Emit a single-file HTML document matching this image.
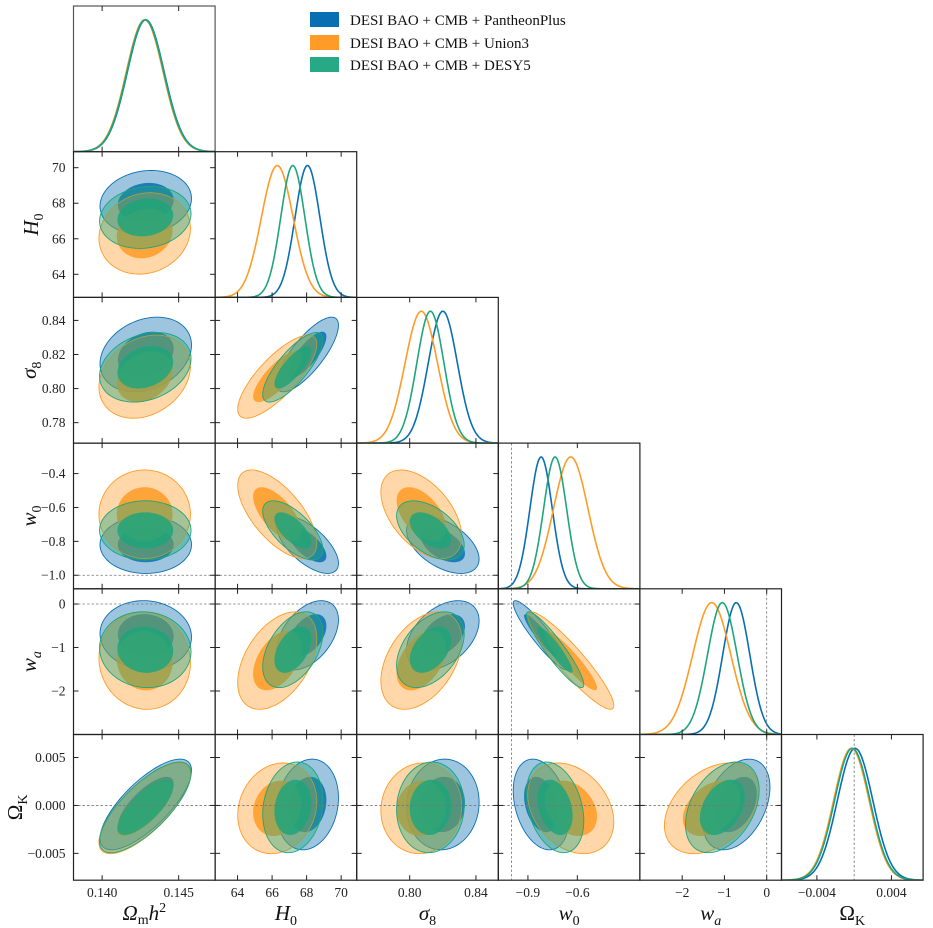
<!DOCTYPE html>
<html><head><meta charset="utf-8"><style>
html,body{margin:0;padding:0;background:#fff;}
svg{display:block;font-family:"Liberation Serif","DejaVu Serif",serif;}
.tl{font-size:13.5px;fill:#222;}
.at{font-size:21px;fill:#111;font-style:italic;}
.lg{font-size:15px;fill:#111;}
</style></head><body>
<svg id="chart" width="933" height="928" viewBox="0 0 933 928" xmlns="http://www.w3.org/2000/svg">
<g id="g-fill"></g>
<g id="g-frame"></g>
<g id="g-text"></g>
<g id="legend">
  <rect x="310" y="12" width="29" height="15" fill="#0a6fb2"/>
  <text class="lg" x="350" y="25">DESI BAO + CMB + PantheonPlus</text>
  <rect x="310" y="35" width="29" height="15" fill="#ff9b26"/>
  <text class="lg" x="350" y="48">DESI BAO + CMB + Union3</text>
  <rect x="310" y="57" width="29" height="15" fill="#27a985"/>
  <text class="lg" x="350" y="70">DESI BAO + CMB + DESY5</text>
</g>
</svg>
<script>
// ---- data ----
const paramNames = ['omh2','H0','sigma8','w0','wa','OmK'];
const seriesNames = ['PantheonPlus','Union3','DESY5'];
const seriesColors = ['#0a6fb2','#ff9b26','#1fa57b'];
const meanPantheon = [0.14285, 68.05, 0.820, -0.82, -0.72, 0.0001];
const meanUnion3   = [0.14278, 66.3, 0.807, -0.64, -1.30, -0.0003];
const meanDESY5    = [0.14282, 67.2, 0.8125, -0.735, -1.05, -0.0002];
const sigmaPantheon = [0.0012, 0.72, 0.0088, 0.068, 0.32, 0.0019];
const sigmaUnion3   = [0.0012, 0.92, 0.0098, 0.105, 0.45, 0.0019];
const sigmaDESY5    = [0.0012, 0.70, 0.0082, 0.070, 0.35, 0.0019];
// correlations rho[i][j] (lower triangle used)
const corrRow1 = [0.12];
const corrRow2 = [0.25, 0.78];
const corrRow3 = [0.0, -0.65, -0.5];
const corrRow4 = [-0.05, 0.45, 0.42, -0.92];
const corrRow5 = [0.75, 0.15, 0.05, -0.3, 0.38];
const axisMin = [0.13813, 62.7, 0.768, -1.08, -3.0, -0.0078];
const axisMax = [0.14738, 70.9, 0.8535, -0.22, 0.35, 0.0074];
const xTicks = [[0.140,0.145],[64,66,68,70],[0.80,0.84],[-0.9,-0.6],[-2,-1,0],[-0.004,0.004]];
const xTickLabels = [['0.140','0.145'],['64','66','68','70'],['0.80','0.84'],['−0.9','−0.6'],['−2','−1','0'],['−0.004','0.004']];
const yTicks = [[],[64,66,68,70],[0.78,0.80,0.82,0.84],[-1.0,-0.8,-0.6,-0.4],[-2,-1,0],[-0.005,0,0.005]];
const yTickLabels = [[],['64','66','68','70'],['0.78','0.80','0.82','0.84'],['−1.0','−0.8','−0.6','−0.4'],['−2','−1','0'],['−0.005','0.000','0.005']];
const refLines = [null,null,null,-1,0,0];
const axisTitles = ['Ω<tspan font-style="normal" font-size="14" dy="4">m</tspan><tspan dy="-4">h</tspan><tspan font-size="14" font-style="normal" dy="-8">2</tspan>',
 'H<tspan font-style="normal" font-size="14" dy="5">0</tspan>','σ<tspan font-style="normal" font-size="14" dy="5">8</tspan>',
 'w<tspan font-style="normal" font-size="14" dy="5">0</tspan>','w<tspan font-size="14" dy="5">a</tspan>',
 '<tspan font-style="normal">Ω</tspan><tspan font-style="normal" font-size="14" dy="5">K</tspan>'];
const yTitleX = [0,38,36,36,36,22];

// ---- layout ----
const X0=73.5, PW=141.6, Y0=6, PH=145.7, N=6;
const NS='http://www.w3.org/2000/svg';
const means=[meanPantheon,meanUnion3,meanDESY5];
const sigmas=[sigmaPantheon,sigmaUnion3,sigmaDESY5];
const corrRows=[[],corrRow1,corrRow2,corrRow3,corrRow4,corrRow5];
function rho(i,j){return i>j?corrRows[i][j]:corrRows[j][i];}
function sx(p,col,v){return X0+col*PW+(v-axisMin[p])/(axisMax[p]-axisMin[p])*PW;}
function sy(p,row,v){return Y0+(row+1)*PH-(v-axisMin[p])/(axisMax[p]-axisMin[p])*PH;}
function mk(tag,attrs,parent){const e=document.createElementNS(NS,tag);for(const k in attrs)e.setAttribute(k,attrs[k]);parent.appendChild(e);return e;}
const gF=document.getElementById('g-fill'),gB=document.getElementById('g-frame'),gT=document.getElementById('g-text');
const defs=mk('defs',{},gF);

for(let r=0;r<N;r++){for(let c=0;c<=r;c++){
  const px=X0+c*PW, py=Y0+r*PH;
  const cp=mk('clipPath',{id:'cp'+r+'_'+c},defs);
  mk('rect',{x:px,y:py,width:PW,height:PH},cp);
  const g=mk('g',{'clip-path':'url(#cp'+r+'_'+c+')'},gF);
  
  
  if(r===c){
    for(let s=0;s<3;s++){
      const m=means[s][c], sd=sigmas[s][c]; let d='';
      for(let k=0;k<=200;k++){const v=axisMin[c]+(axisMax[c]-axisMin[c])*k/200;
        const h=Math.exp(-0.5*((v-m)/sd)**2);
        d+=(k?'L':'M')+sx(c,c,v).toFixed(2)+','+(py+PH-h*PH*0.905).toFixed(2);}
      const p=mk('path',{d:d,fill:'none',stroke:seriesColors[s],'stroke-width':1.6},g);
      
      
    }
    if(refLines[c]!==null){const x=sx(c,c,refLines[c]);
      mk('line',{x1:x,x2:x,y1:py,y2:py+PH,stroke:'#777','stroke-width':0.8,'stroke-dasharray':'2.5,2'},g);}
  } else {
    const rr=rho(r,c);
    for(let s=0;s<3;s++){
      for(const [kk,op] of [[2.49,0.4],[1.52,0.85]]){
        let d='';
        for(let k=0;k<=120;k++){const t=2*Math.PI*k/120;
          const vx=means[s][c]+kk*sigmas[s][c]*Math.cos(t);
          const vy=means[s][r]+kk*sigmas[s][r]*(rr*Math.cos(t)+Math.sqrt(1-rr*rr)*Math.sin(t));
          d+=(k?'L':'M')+sx(c,c,vx).toFixed(2)+','+sy(r,r,vy).toFixed(2);}
        const attrs={d:d+'Z',fill:seriesColors[s],'fill-opacity':op};
        if(kk>2){attrs.stroke=seriesColors[s];attrs['stroke-width']=0.9;attrs['stroke-opacity']=1;}
        const p=mk('path',attrs,g);
        
        
      }
    }
    if(refLines[r]!==null){const y=sy(r,r,refLines[r]);
      mk('line',{x1:px,x2:px+PW,y1:y,y2:y,stroke:'#777','stroke-width':0.8,'stroke-dasharray':'2.5,2'},g);}
    if(refLines[c]!==null){const x=sx(c,c,refLines[c]);
      mk('line',{x1:x,x2:x,y1:py,y2:py+PH,stroke:'#777','stroke-width':0.8,'stroke-dasharray':'2.5,2'},g);}
  }
  mk('rect',{x:px,y:py,width:PW,height:PH,fill:'none',stroke:(r===0?'#555':'#222'),'stroke-width':1.2},gB);
  xTicks[c].forEach(v=>{const x=sx(c,c,v);
    mk('line',{x1:x,x2:x,y1:py+PH,y2:py+PH-5,stroke:'#222','stroke-width':1},gB);
    mk('line',{x1:x,x2:x,y1:py,y2:py+5,stroke:'#222','stroke-width':1},gB);});
  if(r!==c){yTicks[r].forEach(v=>{const y=sy(r,r,v);
    mk('line',{x1:px,x2:px+5,y1:y,y2:y,stroke:'#222','stroke-width':1},gB);
    mk('line',{x1:px+PW,x2:px+PW-5,y1:y,y2:y,stroke:'#222','stroke-width':1},gB);});}
}}
const bottom=Y0+N*PH;
for(let c=0;c<N;c++){
  xTicks[c].forEach((v,i)=>{const t=mk('text',{x:sx(c,c,v),y:bottom+17,'text-anchor':'middle',class:'tl'},gT);
    t.textContent=xTickLabels[c][i];
    
    });
  const at=mk('text',{x:X0+c*PW+PW/2,y:bottom+40,'text-anchor':'middle',class:'at'},gT);
  at.innerHTML=axisTitles[c];
  
  
}
for(let r=1;r<N;r++){
  yTicks[r].forEach((v,i)=>{const t=mk('text',{x:X0-8,y:sy(r,r,v)+4.5,'text-anchor':'end',class:'tl'},gT);
    t.textContent=yTickLabels[r][i];
    
    });
  const cy=Y0+r*PH+PH/2;
  const at=mk('text',{x:0,y:0,'text-anchor':'middle',class:'at',transform:'translate('+yTitleX[r]+','+cy+') rotate(-90)'},gT);
  at.innerHTML=axisTitles[r];
  
  
}
</script>
</body></html>
